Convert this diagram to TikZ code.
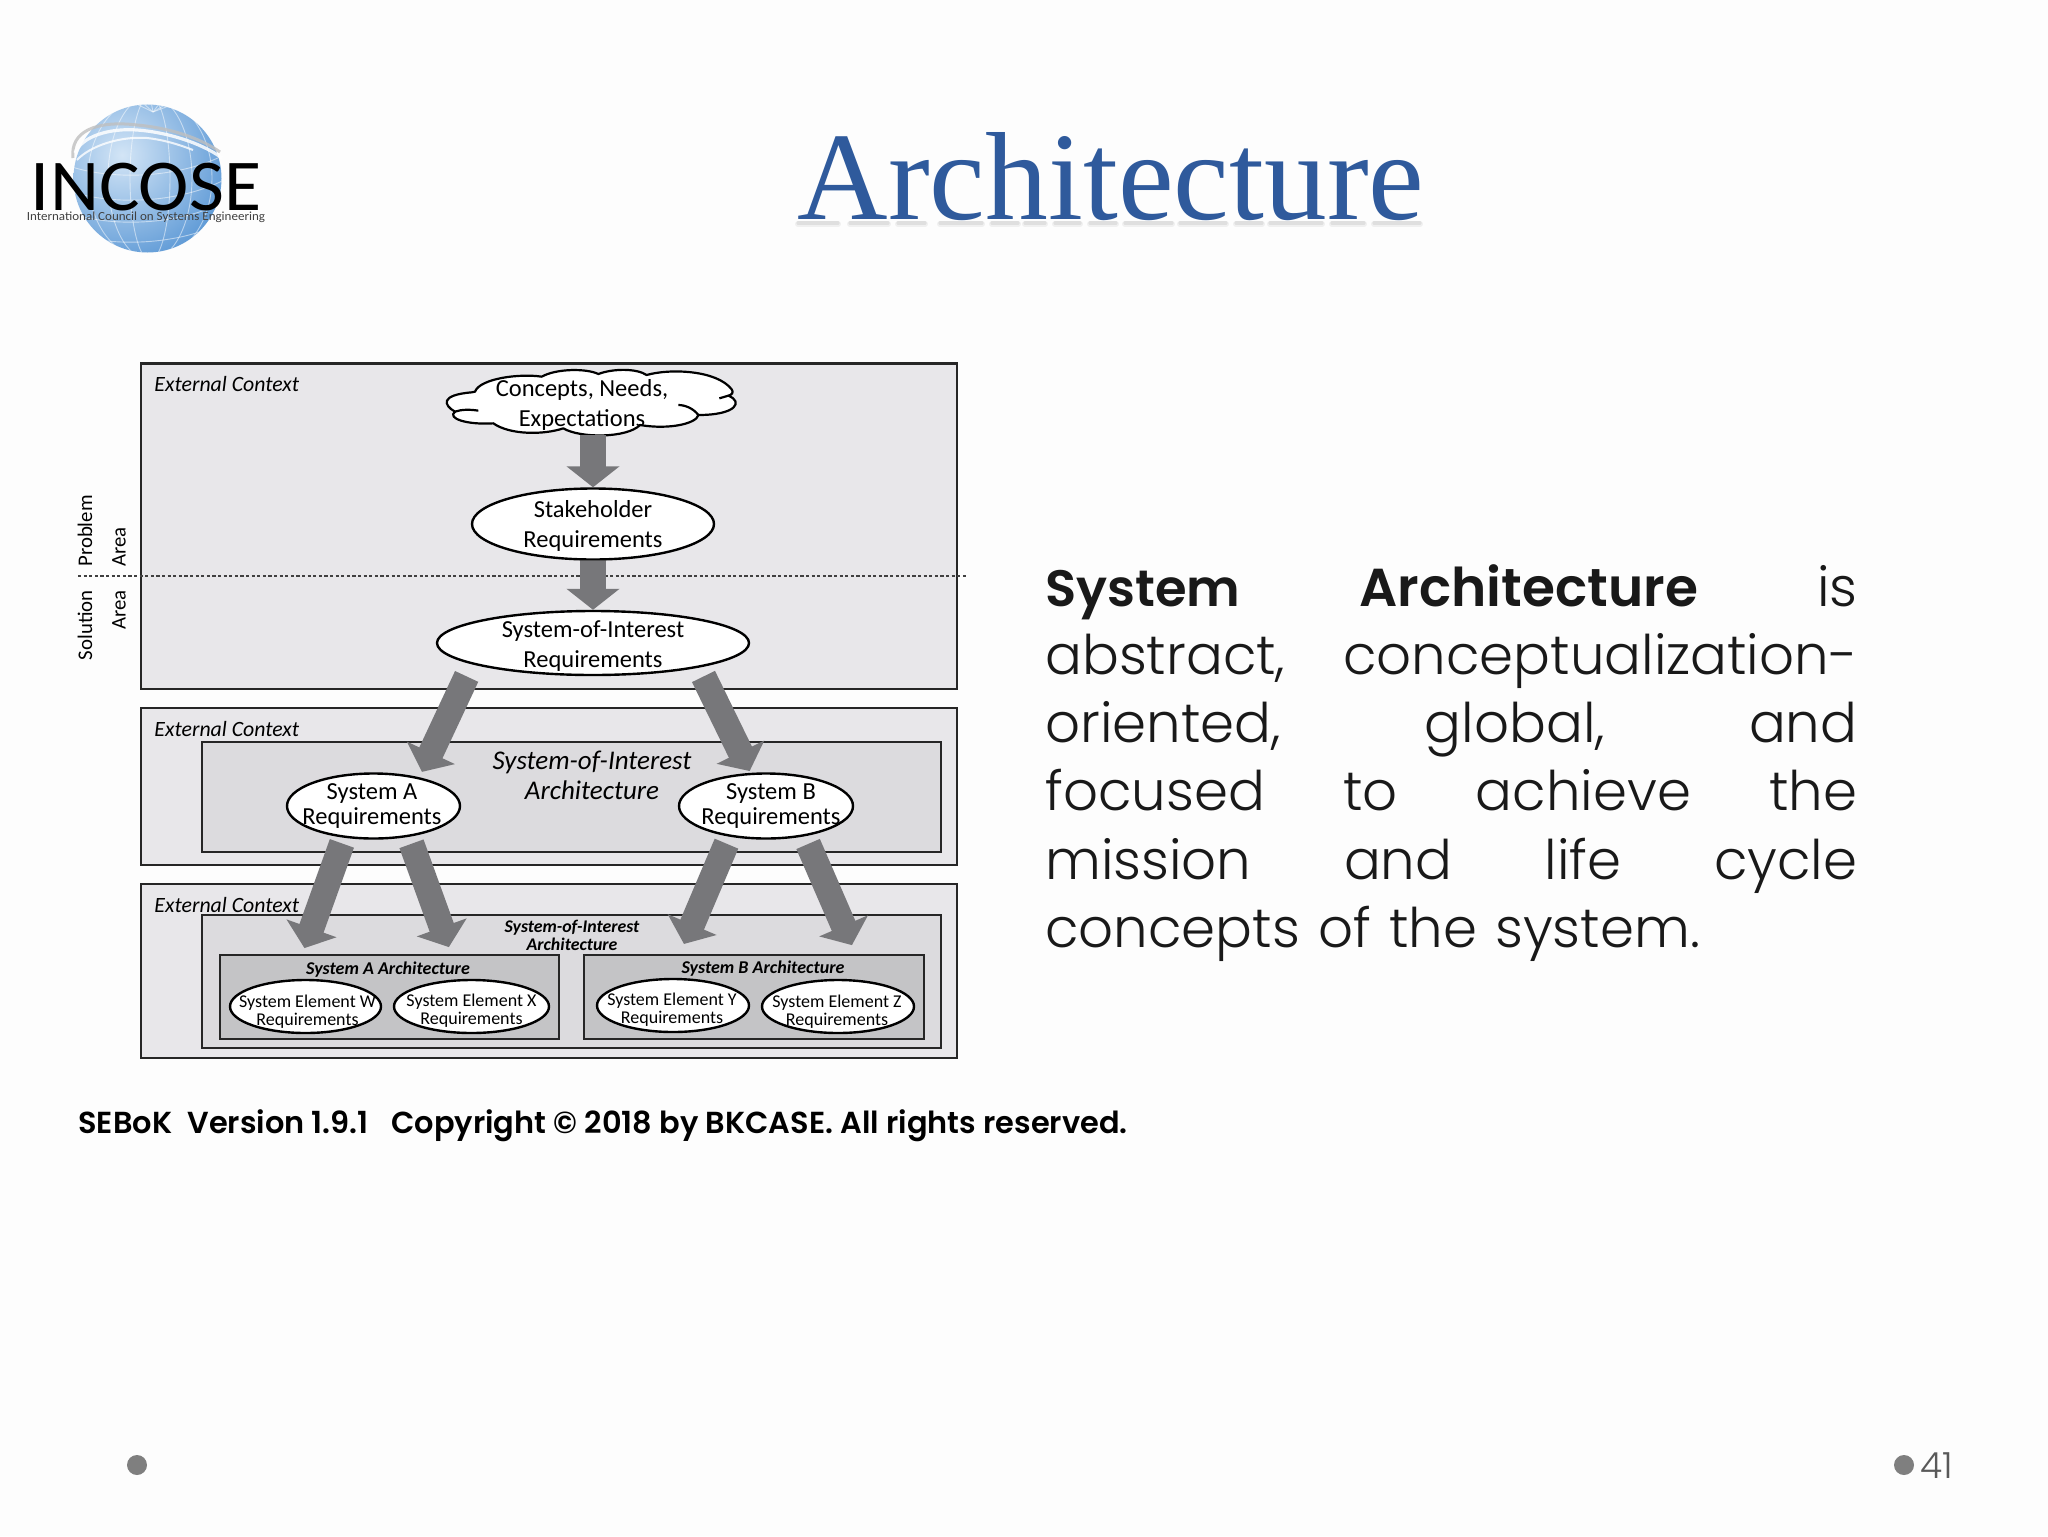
\documentclass[tikz,border=0pt]{standalone}
\usepackage{fontspec}
\usetikzlibrary{arrows.meta,shapes.geometric}
\setmainfont{Carlito}
\newfontfamily\bodyf{Poppins Light}
\newfontfamily\bodyb{Poppins SemiBold}
\newfontfamily\titlef{Liberation Serif}
\definecolor{pagebg}{HTML}{FDFDFD}
\definecolor{titleblue}{HTML}{2F5A9C}
\definecolor{boxa}{HTML}{E8E7EA}
\definecolor{boxb}{HTML}{DCDBDE}
\definecolor{boxc}{HTML}{C4C4C6}
\definecolor{arrowgrey}{HTML}{77777A}
\definecolor{dotgrey}{HTML}{7F7F7F}
\definecolor{ballin}{HTML}{D3E5F6}
\definecolor{ballout}{HTML}{4F90D2}
\newcommand{\ztextx}[3]{\smash{\makebox[0pt]{\hspace*{#1}\raisebox{\dimexpr-.25em-#2\relax}{\begin{tabular}[c]{@{}c@{}}#3\end{tabular}}}}}
\newcommand{\jline}[1]{\makebox[406pt][s]{#1}}
\tikzset{
  box/.style={draw=black!85,line width=1.4pt,anchor=north west,inner sep=0pt,outer sep=0pt},
  ell/.style={ellipse,draw=black,line width=1.2pt,fill=white,inner sep=0pt,align=center},
  large/.style={font=\fontsize{12.25pt}{15pt}\selectfont},
  sysreq/.style={font=\fontsize{12.25pt}{12.2pt}\selectfont},
  small/.style={font=\fontsize{9pt}{9.2pt}\selectfont},
  ctx/.style={anchor=west,inner sep=0pt,font=\fontsize{10.9pt}{13pt}\selectfont\itshape},
  side/.style={rotate=90,inner sep=0pt,font=\fontsize{10.4pt}{12pt}\selectfont},
  bigarrow/.style={draw=arrowgrey,line width=12.8pt,-{Triangle[length=10.5pt,width=26pt]}},
  logoline/.style={draw=white,line width=.45pt,opacity=.5},
  archlabel/.style={inner sep=0pt,font=\fontsize{9pt}{10pt}\selectfont\bfseries\itshape},
  titletext/.style={inner sep=0pt,anchor=base,font=\titlef\fontsize{62.7pt}{70pt}\selectfont}
}
\begin{document}
\begin{tikzpicture}[x=0.5pt,y=-0.5pt]
\useasboundingbox (0,0) rectangle (2048,1536);
\fill[pagebg] (0,0) rectangle (2048,1536);

% logo
\begin{scope}
\clip (147.5,178.5) circle (74);
\shade[inner color=ballin,outer color=ballout] (122,155) circle (125);
\foreach \rr in {20,42,62} {\draw[logoline] (150,178) ellipse ({\rr} and 82);}
\foreach \yy in {165,190,212,232} {\draw[logoline] (66,\yy) .. controls (110,\yy+16) and (180,\yy+14) .. (228,\yy-12);}
\foreach \xx in {120,135,150,165,180,195} {\draw[logoline] (153,112) -- (\xx,96);}
\end{scope}
\draw[black!25,line width=1.5pt,opacity=.8] (73,158) .. controls (70,132) and (95,120) .. (137,125) .. controls (170,128) and (200,138) .. (220,152);
\draw[white,line width=1.6pt,opacity=.85] (75,153) .. controls (82,136) and (110,128) .. (137,130) .. controls (165,132) and (200,142) .. (222,158);
\draw[white,line width=1pt,opacity=.8] (77,160) .. controls (90,146) and (120,136) .. (147,138) .. controls (165,140) and (180,145) .. (193,150);
\node[inner sep=0pt,anchor=center,xscale=1.04,font=\fontsize{36.5pt}{40pt}\selectfont] (logoword) at (146,187) {INCOSE};
\node[inner sep=0pt,anchor=center,xscale=1.05,font=\fontsize{6.2pt}{7pt}\selectfont,text=black!75] (logosub) at (146,217) {International Council on Systems Engineering};

% soft shadow under the title's letters
\foreach \xa/\xb in {798/838,850/888,898/925,940/982,992/1018,1025/1045,1055/1080,1090/1116,1125/1172,1180/1226,1236/1262,1270/1322,1332/1364,1374/1420} {
  \draw[black,line width=3pt,opacity=.05,line cap=round] (\xa,224) -- (\xb,224);
  \draw[black,line width=1.6pt,opacity=.07,line cap=round] (\xa,223) -- (\xb,223);
}
\node[titletext,text=titleblue] (title) at (1111,219) {Architecture};

% boxes
\node[box,fill=boxa,minimum width=408pt,minimum height=162.75pt] (ctx1) at (141,363.5) {};
\node[box,fill=boxa,minimum width=408pt,minimum height=78.5pt] (ctx2) at (141,708) {};
\node[box,fill=boxa,minimum width=408pt,minimum height=87pt] (ctx3) at (141,884) {};
\node[box,fill=boxb,minimum width=369.5pt,minimum height=55pt,line width=1.2pt] (soi2) at (202,742) {};
\node[box,fill=boxb,minimum width=369.5pt,minimum height=66.5pt,line width=1.2pt] (soi3) at (202,915) {};
\node[box,fill=boxc,minimum width=169.5pt,minimum height=42pt,line width=1.2pt] (archa) at (220,955) {};
\node[box,fill=boxc,minimum width=170pt,minimum height=42pt,line width=1.2pt] (archb) at (584,955) {};

\node[ctx] (ctxt1) at (154,384) {External Context};
\node[ctx] (ctxt2) at (154,729) {External Context};
\node[ctx] (ctxt3) at (154,905) {External Context};

% problem / solution
\coordinate (dotl) at (78,576);
\coordinate (dotr) at (968,576);
\draw[black!75,line width=.8pt,dash pattern=on 1.6pt off 1.2pt] (dotl) -- (dotr);
\node[side,anchor=west] (prob) at (85,567) {Problem};
\node[side,anchor=west] (parea) at (119,567) {Area};
\node[side,anchor=east] (sol) at (85,590) {Solution};
\node[side,anchor=east] (sarea) at (119,590) {Area};

% cloud outline
\begin{scope}[shift={(430,360)},x=0.16667pt,y=-0.16667pt]
\path[draw=black,line width=1.1pt,fill=white,line join=round]
  (135,95) .. controls (150,55) and (270,40) .. (335,50)
  .. controls (380,25) and (470,25) .. (505,42)
  .. controls (550,25) and (620,25) .. (650,45)
  .. controls (720,25) and (860,30) .. (905,88)
  .. controls (912,98) and (905,104) .. (895,107)
  .. controls (940,125) and (920,165) .. (805,165)
  .. controls (800,190) and (720,210) .. (630,195)
  .. controls (590,235) and (450,235) .. (400,205)
  .. controls (340,225) and (240,225) .. (190,190)
  .. controls (110,195) and (50,175) .. (75,155)
  .. controls (40,135) and (30,105) .. (125,97) -- cycle;
\draw[line width=1.1pt] (895,107) -- (868,115);
\draw[line width=1.1pt] (805,165) .. controls (790,145) and (765,135) .. (745,135);
\draw[line width=1.1pt] (75,155) .. controls (95,148) and (120,148) .. (145,152);
\end{scope}

% requirement nodes
\node[inner sep=0pt,minimum width=146pt,minimum height=32pt] (cloudn) at (593,403) {};
\node[large,inner sep=0pt] (cloudt) at (582,403) {\ztextx{0pt}{1.3pt}{Concepts, Needs,\\Expectations}};
\node[ell,large,minimum width=121pt,minimum height=35.5pt] (stake) at (593,524) {\ztextx{0pt}{1.3pt}{Stakeholder\\Requirements}};
\node[ell,large,minimum width=156pt,minimum height=32pt] (soi) at (593,643) {\ztextx{0pt}{1.6pt}{System-of-Interest\\Requirements}};
\node[ell,sysreq,minimum width=86.5pt,minimum height=32.5pt] (sysa) at (373.5,806) {\ztextx{-1.5pt}{.5pt}{System A\\Requirements}};
\node[ell,sysreq,minimum width=87pt,minimum height=32.5pt] (sysb) at (766,806) {\ztextx{5pt}{.5pt}{System B\\Requirements}};
\node[ell,small,minimum width=75.5pt,minimum height=26.5pt] (elw) at (305.5,1006.5) {\ztextx{2pt}{3.3pt}{System Element W\\Requirements}};
\node[ell,small,minimum width=77.5pt,minimum height=26.5pt] (elx) at (471.5,1006.5) {\ztextx{0pt}{2.6pt}{System Element X\\Requirements}};
\node[ell,small,minimum width=76pt,minimum height=26.5pt] (ely) at (673,1005.5) {\ztextx{-1pt}{2.6pt}{System Element Y\\Requirements}};
\node[ell,small,minimum width=76pt,minimum height=26.5pt] (elz) at (838,1006.5) {\ztextx{-1pt}{3.3pt}{System Element Z\\Requirements}};

% labels inside architecture boxes
\node[inner sep=0pt,font=\fontsize{13.5pt}{14.6pt}\selectfont\itshape] (soilab) at (592,779) {\ztextx{0pt}{0pt}{System-of-Interest\\Architecture}};
\node[inner sep=0pt,font=\fontsize{8.9pt}{9pt}\selectfont\bfseries\itshape] (soilabs) at (572,937.5) {\ztextx{0pt}{0pt}{System-of-Interest\\Architecture}};
\node[archlabel] (alab) at (388,970) {System A Architecture};
\node[archlabel] (blab) at (763,969) {System B Architecture};

% connectors
\draw[bigarrow] (cloudn.south) -- (stake.north);
\draw[bigarrow] (stake.south) -- (soi.north);
\draw[bigarrow,shorten <=6.7pt,shorten >=3pt] (soi.190) -- (sysa.32);
\draw[bigarrow,shorten <=5pt,shorten >=1pt] (soi.347) -- (sysb.115);
\draw[bigarrow,shorten <=3pt,shorten >=16.5pt] (sysa.227) -- (elw.114);
\draw[bigarrow,shorten <=3.7pt,shorten >=17pt] (sysa.319) -- (elx.112);
\draw[bigarrow,shorten <=3.8pt,shorten >=18.4pt] (sysb.220) -- (ely.97);
\draw[bigarrow,shorten <=4.2pt,shorten >=19.5pt] (sysb.322) -- (elz.41);

% body text
\node[anchor=north west,inner sep=0pt,text width=406pt,font=\bodyf\fontsize{27.3pt}{34.1pt}\selectfont,text=black!90] (body) at (1045,564) {%
\jline{{\bodyb\fontsize{25.6pt}{34.1pt}\selectfont System}\hfil{\bodyb\fontsize{26.7pt}{34.1pt}\selectfont Architecture}\hfil is}\\
\jline{abstract,\hfil conceptualization-}\\
\jline{oriented,\hfil global,\hfil and}\\
\jline{focused\hfil to\hfil achieve\hfil the}\\
\jline{mission\hfil and\hfil life\hfil cycle}\\
concepts of the system.};

% footer
\node[anchor=west,inner sep=0pt,font=\bodyb\fontsize{15.2pt}{18pt}\selectfont] (footer) at (78,1126) {SEBoK\hspace{.5em}Version 1.9.1\hspace{.75em}Copyright © 2018 by BKCASE. All rights reserved.};

% slide dots & number
\node[circle,fill=dotgrey,minimum size=10pt,inner sep=0pt] (dotleft) at (137,1465) {};
\node[circle,fill=dotgrey,minimum size=10pt,inner sep=0pt] (dotright) at (1904,1465) {};
\node[anchor=west,inner sep=0pt,font=\bodyf\fontsize{18pt}{20pt}\selectfont,text=black!65] (pagenum) at (1920,1466) {41};
\end{tikzpicture}
\end{document}
